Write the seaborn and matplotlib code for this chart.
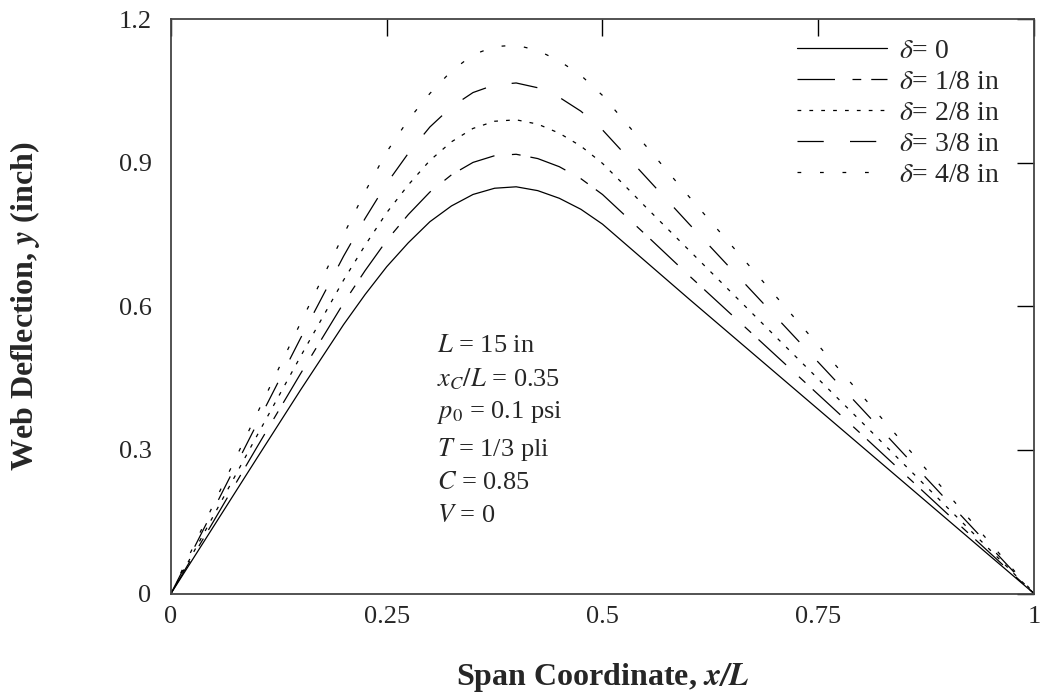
import matplotlib
matplotlib.use("Agg")
import matplotlib.pyplot as plt
import seaborn as sns
import pandas as pd

# ---- data ----
x_over_L = [0.0, 0.05, 0.1, 0.15, 0.2, 0.225, 0.25, 0.275, 0.3, 0.325, 0.35, 0.375,
            0.4, 0.425, 0.45, 0.475, 0.5, 0.525, 0.55, 0.6, 0.7, 0.8, 0.9, 1.0]

y_delta_0 = [0.0, 0.142, 0.284, 0.425, 0.562, 0.625, 0.683, 0.733, 0.777, 0.810, 0.834, 0.847,
             0.850, 0.842, 0.826, 0.803, 0.772, 0.733, 0.694, 0.616, 0.462, 0.308, 0.154, 0.0]
y_delta_1 = [0.0, 0.153, 0.307, 0.459, 0.607, 0.675, 0.738, 0.792, 0.839, 0.875, 0.901, 0.915,
             0.918, 0.909, 0.892, 0.867, 0.834, 0.792, 0.750, 0.665, 0.499, 0.333, 0.166, 0.0]
y_delta_2 = [0.0, 0.165, 0.331, 0.495, 0.655, 0.728, 0.796, 0.854, 0.905, 0.944, 0.972, 0.987,
             0.990, 0.981, 0.962, 0.935, 0.899, 0.854, 0.808, 0.718, 0.538, 0.359, 0.179, 0.0]
y_delta_3 = [0.0, 0.178, 0.356, 0.533, 0.705, 0.784, 0.857, 0.920, 0.975, 1.017, 1.047, 1.063,
             1.067, 1.057, 1.037, 1.008, 0.969, 0.920, 0.871, 0.773, 0.580, 0.387, 0.193, 0.0]
y_delta_4 = [0.0, 0.189, 0.377, 0.565, 0.750, 0.840, 0.923, 0.990, 1.045, 1.092, 1.126, 1.143,
             1.146, 1.135, 1.113, 1.083, 1.041, 0.988, 0.936, 0.830, 0.623, 0.415, 0.208, 0.0]

series_labels = [r"$\delta$= 0", r"$\delta$= 1/8 in", r"$\delta$= 2/8 in",
                 r"$\delta$= 3/8 in", r"$\delta$= 4/8 in"]
series_values = [y_delta_0, y_delta_1, y_delta_2, y_delta_3, y_delta_4]

x_ticks = [0, 0.25, 0.5, 0.75, 1]
x_tick_labels = ["0", "0.25", "0.5", "0.75", "1"]
y_ticks = [0, 0.3, 0.6, 0.9, 1.2]
y_tick_labels = ["0", "0.3", "0.6", "0.9", "1.2"]

annotation_lines = [r"$L$ = 15 in", r"$x_C/L$ = 0.35", r"$p_0$ = 0.1 psi",
                    r"$T$ = 1/3 pli", r"$C$ = 0.85", r"$V$ = 0"]

# ---- styling ----
sns.set_theme(style="white")
plt.rcParams["font.family"] = ["Liberation Serif", "DejaVu Serif"]
plt.rcParams["mathtext.fontset"] = "stix"

line_styles = [
    "-",
    (0, (30, 14, 7, 8)),
    (0, (3, 6.5)),
    (0, (21, 21)),
    (0, (3, 15)),
]

fig = plt.figure(figsize=(10.4, 6.98), dpi=100)
ax = fig.add_axes([0.1644, 0.1497, 0.8298, 0.8226])

for lab, vals, ls in zip(series_labels, series_values, line_styles):
    df = pd.DataFrame({"x": x_over_L, "y": vals})
    sns.lineplot(data=df, x="x", y="y", ax=ax, color="black", lw=0.9,
                 linestyle=ls, label=lab, sort=False, estimator=None)

ax.set_xlim(0, 1)
ax.set_ylim(0, 1.2)
ax.set_xticks(x_ticks)
ax.set_xticklabels(x_tick_labels)
ax.set_yticks(y_ticks)
ax.set_yticklabels(y_tick_labels)
ax.tick_params(axis="both", direction="in", length=12, width=1.0, color="black",
               top=True, right=True, labelsize=19)
ax.tick_params(axis="x", pad=9)
ax.tick_params(axis="y", pad=14)
for sp in ax.spines.values():
    sp.set_color("#444444")
    sp.set_linewidth(1.3)

ax.set_xlabel(r"Span Coordinate, $\mathbfit{x/L}$", fontsize=23, fontweight="bold",
              labelpad=24)
ax.set_ylabel(r"Web Deflection, $\mathbfit{y}$ (inch)", fontsize=23, fontweight="bold")
ax.yaxis.set_label_coords(-0.149, 0.5)

leg = ax.legend(loc="upper right", bbox_to_anchor=(0.961, 0.967), frameon=False,
                fontsize=20, handlelength=3.25, handletextpad=0.43, labelspacing=0.2,
                borderpad=0, borderaxespad=0)

y_positions = [0.431, 0.374, 0.315, 0.251, 0.192, 0.135]
for txt, yp in zip(annotation_lines, y_positions):
    ax.text(0.308, yp, txt, transform=ax.transAxes, fontsize=19, va="center", ha="left")

fig.savefig("out.png", dpi=100)
